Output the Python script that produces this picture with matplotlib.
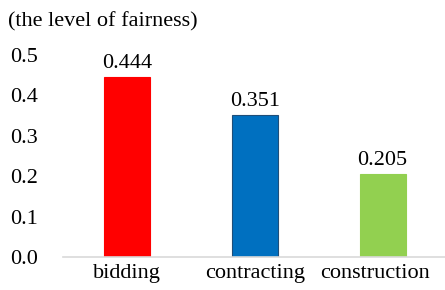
import matplotlib.pyplot as plt
import matplotlib.transforms as mtransforms

categories = ["bidding", "contracting", "construction"]
values = [0.444, 0.351, 0.205]
colors = ["#FF0000", "#0070C0", "#92D050"]
edges = ["#FF0000", "#1F4E79", "#92D050"]
yticks = [0.0, 0.1, 0.2, 0.3, 0.4, 0.5]

plt.rcParams['font.family'] = ['Liberation Serif', 'DejaVu Serif']
fs = 16

fig = plt.figure(figsize=(4.45, 2.9), dpi=100)
ax = fig.add_axes([0.1416, 0.1138, 0.862, 0.698])

x = range(len(categories))
bars = ax.bar(x, values, width=0.36, color=colors, edgecolor=edges, linewidth=0.8)
for i, v in enumerate(values):
    ax.text(i, v + 0.01, f"{v:.3f}", ha="center", va="bottom", fontsize=fs)

ax.set_xlim(-0.5, 2.5)
ax.set_ylim(0, 0.5)
ax.set_xticks(list(x))
ax.set_xticklabels(categories, fontsize=fs)
ax.set_yticks(yticks)
ax.set_yticklabels([f"{t:.1f}" for t in yticks], fontsize=fs)
ax.tick_params(axis="y", length=0, pad=18)
ax.tick_params(axis="x", length=0, pad=5)
for s in ["top", "right", "left"]:
    ax.spines[s].set_visible(False)
ax.spines["bottom"].set_color("#D9D9D9")
ax.spines["bottom"].set_linewidth(1.2)

# last label is pushed left so it stays inside the picture
lab = ax.get_xticklabels()[-1]
lab.set_transform(lab.get_transform() + mtransforms.ScaledTranslation(-8 / 100, 0, fig.dpi_scale_trans))

fig.text(0.018, 0.925, "(the level of fairness)", fontsize=fs, ha="left", va="center")

fig.savefig("out.png", dpi=100)
